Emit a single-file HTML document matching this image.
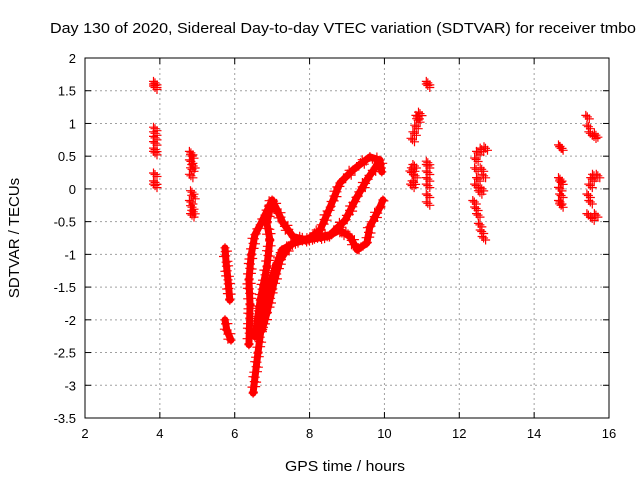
<!DOCTYPE html>
<html><head><meta charset="utf-8">
<style>
html,body{margin:0;padding:0;background:#fff;}
svg{display:block;font-family:"Liberation Sans",sans-serif;}
</style></head>
<body>
<svg id="chart" width="640" height="480" viewBox="0 0 640 480">
<text x="343" y="33" text-anchor="middle" font-size="15" textLength="586" lengthAdjust="spacingAndGlyphs">Day 130 of 2020, Sidereal Day-to-day VTEC variation (SDTVAR) for receiver tmbo</text>
<text x="345" y="471" text-anchor="middle" font-size="15" textLength="120" lengthAdjust="spacingAndGlyphs">GPS time / hours</text>
<text transform="translate(19,238) rotate(-90)" text-anchor="middle" font-size="15">SDTVAR / TECUs</text>
<g id="grid"></g>
<g id="ticks"></g>
<g id="marks"></g>
<rect x="85" y="58" width="524" height="360" fill="none" stroke="#000" stroke-width="1"/>
</svg>
<script>
const xTicks=[2,4,6,8,10,12,14,16];
const yTicks=[2,1.5,1,0.5,0,-0.5,-1,-1.5,-2,-2.5,-3,-3.5];
const yTickLabels=["2","1.5","1","0.5","0","-0.5","-1","-1.5","-2","-2.5","-3","-3.5"];
// continuous traces: [hour, tecu] pairs
const traceA=[[6.49,-3.12],[6.62,-2.51],[6.76,-1.90],[6.94,-1.44],[7.13,-1.13],[7.26,-0.93],[7.56,-0.83],[7.93,-0.78],[8.28,-0.63],[8.55,-0.28],[8.81,0.09],[9.16,0.29],[9.61,0.49],[9.88,0.44],[9.93,0.26]];
const traceB=[[6.54,-2.26],[6.68,-1.70],[6.86,-1.19],[6.94,-0.78],[6.86,-0.52],[7.00,-0.17],[7.13,-0.32],[7.29,-0.52],[7.56,-0.73],[7.93,-0.78],[8.47,-0.73],[8.81,-0.63],[9.08,-0.73],[9.27,-0.93],[9.53,-0.83],[9.61,-0.58],[9.88,-0.28],[9.96,-0.17]];
const traceC=[[6.73,-2.16],[6.86,-1.90],[7.00,-1.54],[7.21,-1.09],[7.48,-0.86],[7.74,-0.78],[8.55,-0.70],[8.95,-0.48],[9.27,-0.12],[9.53,0.14],[9.75,0.32],[9.83,0.41]];
const traceD=[[6.38,-2.38],[6.41,-1.77],[6.38,-1.39],[6.44,-1.01],[6.54,-0.70],[6.68,-0.55],[6.81,-0.40],[7.00,-0.17]];
const traceE1=[[5.74,-0.90],[5.77,-1.12],[5.82,-1.39],[5.87,-1.70]];
const traceE2=[[5.74,-2.00],[5.79,-2.16],[5.90,-2.31]];
const traces=[traceA,traceB,traceC,traceD,traceE1,traceE2];
// isolated point clusters
const clusterX=[3.87,3.87,3.87,3.87,3.87,3.87,3.87,3.87,3.87,3.87,3.87,3.87,
4.83,4.86,4.83,4.89,4.86,4.83,4.86,4.89,4.83,4.86,4.89,4.86,
10.74,10.78,10.82,10.76,10.8,10.72,10.75,10.8,10.85,10.9,10.95,10.88,
11.16,11.16,11.16,11.16,11.16,11.16,11.16,11.16,11.16,
12.5,12.6,12.7,12.45,12.45,12.5,12.45,12.6,12.65,12.55,12.6,12.4,12.45,12.5,12.55,12.6,12.65,
14.69,14.72,14.69,14.72,14.69,14.72,14.69,14.72,
15.42,15.45,15.5,15.6,15.65,15.45,15.5,15.55,15.6,15.7,15.5,15.45,15.55,15.65];
const clusterY=[1.62,1.58,1.55,0.92,0.85,0.78,0.7,0.6,0.55,0.22,0.1,0.05,
0.55,0.5,0.42,0.35,0.3,0.2,-0.05,-0.12,-0.2,-0.28,-0.35,-0.4,
0.05,0.1,0.2,0.3,0.35,0.25,0.75,0.85,0.95,1.05,1.15,1.1,
1.62,1.58,0.4,0.35,0.25,0.15,0.05,-0.1,-0.22,
0.55,0.6,0.62,0.45,0.3,0.15,0.05,0.3,0.2,-0.05,0.0,-0.2,-0.3,-0.4,-0.55,-0.65,-0.75,
0.65,0.62,0.15,0.1,0.0,-0.1,-0.2,-0.25,
1.1,0.95,0.85,0.8,0.82,-0.1,0.05,0.15,0.2,0.2,-0.2,-0.4,-0.45,-0.4];
const X0=85,X1=609,Y0=58,Y1=418;
const sx=v=>X0+(v-2)/14*(X1-X0);
const sy=v=>Y0+(2-v)/5.5*(Y1-Y0);
const NS="http://www.w3.org/2000/svg";
const grid=document.getElementById('grid'),ticks=document.getElementById('ticks'),marks=document.getElementById('marks');
function mk(t,a,p){const e=document.createElementNS(NS,t);for(const k in a)e.setAttribute(k,a[k]);p.appendChild(e);return e;}
xTicks.forEach(v=>{const x=sx(v);
 if(v>2&&v<16){const g=mk('line',{x1:x,x2:x,y1:Y0,y2:Y1,stroke:'#a0a0a0','stroke-dasharray':'2,3'},grid);
 
 }
 mk('line',{x1:x,x2:x,y1:Y1,y2:Y1-6,stroke:'#000'},ticks);
 mk('line',{x1:x,x2:x,y1:Y0,y2:Y0+6,stroke:'#000'},ticks);
 const t=mk('text',{x:x,y:Y1+20,'text-anchor':'middle','font-size':13},ticks);t.textContent=String(v);
 
 
});
yTicks.forEach((v,i)=>{const y=sy(v);
 if(v<2&&v>-3.5){const g=mk('line',{x1:X0,x2:X1,y1:y,y2:y,stroke:'#a0a0a0','stroke-dasharray':'2,3'},grid);
 
 }
 mk('line',{x1:X0,x2:X0+6,y1:y,y2:y,stroke:'#000'},ticks);
 mk('line',{x1:X1,x2:X1-6,y1:y,y2:y,stroke:'#000'},ticks);
 const t=mk('text',{x:X0-9,y:y+5,'text-anchor':'end','font-size':13},ticks);t.textContent=yTickLabels[i];
 
 
});
let dpath='';
function plus(x,y){dpath+=`M${(x-4.5).toFixed(1)},${y.toFixed(1)}h9M${x.toFixed(1)},${(y-4.5).toFixed(1)}v9`;}
traces.forEach(tr=>{
 const pl=mk('polyline',{points:tr.map(p=>sx(p[0])+','+sy(p[1])).join(' '),stroke:'#f00','stroke-width':7,fill:'none','stroke-linejoin':'round','stroke-linecap':'round'},marks);
 
 
 for(let i=0;i<tr.length;i++){
  const ax=sx(tr[i][0]),ay=sy(tr[i][1]);plus(ax,ay);
  if(i<tr.length-1){const bx=sx(tr[i+1][0]),by=sy(tr[i+1][1]);
   const n=Math.max(1,Math.round(Math.hypot(bx-ax,by-ay)/2.5));
   for(let k=1;k<n;k++){const f=k/n;plus(ax+(bx-ax)*f+((k%3)-1)*2,ay+(by-ay)*f+((k%2)?1.5:-1.5));}}
 }
});
clusterX.forEach((v,i)=>{const x=sx(v),y=sy(clusterY[i]);plus(x,y);plus(x+2,y+2);plus(x-1.5,y-1.5);});
const mp=mk('path',{d:dpath,stroke:'#f00','stroke-width':1.2,fill:'none'},marks);


</script>
</body></html>
